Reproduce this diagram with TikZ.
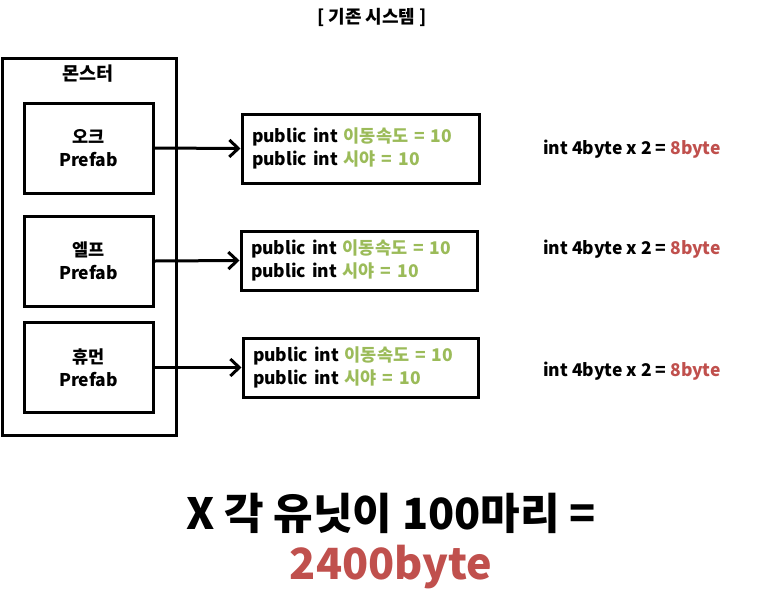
\documentclass[tikz,border=0pt]{standalone}
\usepackage{fontspec}
\setmainfont{Noto Sans CJK KR}
\usepackage{tikz}
\usetikzlibrary{positioning,arrows.meta}
\definecolor{fieldgreen}{RGB}{155,187,89}
\definecolor{bytered}{RGB}{192,80,77}

\begin{document}
\begin{tikzpicture}[x=1pt,y=-1pt,
    box/.style={draw,line width=3pt},
    prefab/.style={box,minimum width=129pt,minimum height=90pt,align=center,
      font=\bfseries\fontsize{17.5}{23}\selectfont},
    fieldbox/.style={box,text width=217pt,inner xsep=10pt,minimum height=59pt,
      align=left,font=\bfseries\fontsize{17.5}{23}\selectfont},
    sizetxt/.style={font=\bfseries\fontsize{17.5}{20}\selectfont},
    arr/.style={-{Straight Barb[length=9pt,width=17pt]},line width=3pt}]
  \useasboundingbox (0,0) rectangle (757,614);

  % ── Title ──
  \node[font=\bfseries\fontsize{18}{20}\selectfont] (title) at (372,17) {[ 기존 시스템 ]};

  % ── Monster group ──
  \node[box,minimum width=174pt,minimum height=377pt] (monster) at (89,246.5) {};
  \node[font=\bfseries\fontsize{18.5}{20}\selectfont] (monsterlbl) at (88,74) {몬스터};
  \node[prefab] (orc)   at (88.5,148) {오크\\Prefab};
  \node[prefab] (elf)   at (88.5,261) {엘프\\Prefab};
  \node[prefab] (human) at (88.5,367.5) {휴먼\\Prefab};

  % ── Field boxes ──
  \node[fieldbox,minimum height=69pt] (field1) at (360.5,148.5)
    {public int \textcolor{fieldgreen}{이동속도 = 10}\\public int \textcolor{fieldgreen}{시야 = 10}};
  \node[fieldbox,text width=216pt] (field2) at (359,260.5)
    {public int \textcolor{fieldgreen}{이동속도 = 10}\\public int \textcolor{fieldgreen}{시야 = 10}};
  \node[fieldbox,text width=215pt] (field3) at (360.5,367.5)
    {public int \textcolor{fieldgreen}{이동속도 = 10}\\public int \textcolor{fieldgreen}{시야 = 10}};

  \draw[arr] (orc.east) -- (field1.west);
  \draw[arr] (elf.east) -- (field2.west);
  \draw[arr] (human.east) -- (field3.west);

  % ── Size per unit ──
  \node[sizetxt] (size1) at (632,149) {int 4byte x 2 = \textcolor{bytered}{8byte}};
  \node[sizetxt] (size2) at (632,249) {int 4byte x 2 = \textcolor{bytered}{8byte}};
  \node[sizetxt] (size3) at (632,371) {int 4byte x 2 = \textcolor{bytered}{8byte}};

  % ── Total ──
  \node[align=center,font=\bfseries\fontsize{43}{50}\selectfont] (total) at (391,541)
    {X 각 유닛이 100마리 =\\\textcolor{bytered}{2400byte}};
\end{tikzpicture}
\end{document}
